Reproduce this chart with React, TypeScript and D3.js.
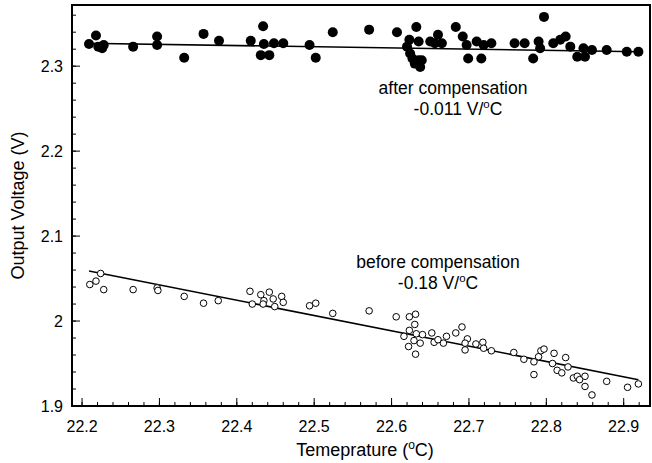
import React, { useEffect, useRef } from 'react';
import * as d3 from 'd3';

// after compensation (filled dots)
const afterTemp = [22.209, 22.218, 22.221, 22.226, 22.228, 22.266, 22.297, 22.297, 22.332, 22.357,
  22.377, 22.418, 22.434, 22.435, 22.431, 22.442, 22.448, 22.46, 22.494, 22.502, 22.524,
  22.571, 22.607, 22.632, 22.623, 22.635, 22.62, 22.624, 22.627, 22.635, 22.637, 22.63, 22.639,
  22.65, 22.66, 22.656, 22.665, 22.683, 22.692, 22.697, 22.699, 22.71, 22.716, 22.719, 22.729,
  22.759, 22.772, 22.783, 22.79, 22.797, 22.792, 22.809, 22.818, 22.825, 22.831, 22.84, 22.85,
  22.848, 22.859, 22.878, 22.904, 22.919];
const afterVolt = [2.326, 2.336, 2.323, 2.321, 2.325, 2.323, 2.335, 2.325, 2.31, 2.338,
  2.33, 2.33, 2.347, 2.326, 2.313, 2.313, 2.327, 2.327, 2.325, 2.31, 2.34,
  2.343, 2.34, 2.346, 2.331, 2.329, 2.323, 2.315, 2.309, 2.307, 2.299, 2.303, 2.307,
  2.329, 2.337, 2.327, 2.327, 2.346, 2.335, 2.325, 2.309, 2.329, 2.309, 2.325, 2.327,
  2.327, 2.327, 2.309, 2.329, 2.358, 2.321, 2.327, 2.331, 2.335, 2.323, 2.311, 2.311,
  2.321, 2.319, 2.319, 2.317, 2.317];

// before compensation (open circles)
const beforeTemp = [22.21, 22.218, 22.224, 22.228, 22.266, 22.297, 22.298, 22.332, 22.357, 22.376,
  22.417, 22.42, 22.431, 22.435, 22.434, 22.442, 22.447, 22.449, 22.458, 22.46, 22.494, 22.502, 22.524,
  22.571, 22.606, 22.623, 22.631, 22.63, 22.623, 22.616, 22.632, 22.629, 22.622, 22.637, 22.631,
  22.64, 22.652, 22.655, 22.66, 22.667, 22.671, 22.683, 22.691, 22.698, 22.695, 22.695, 22.709,
  22.718, 22.719, 22.729, 22.758, 22.771, 22.784, 22.784, 22.79, 22.793, 22.797, 22.81, 22.808,
  22.814, 22.82, 22.825, 22.828, 22.835, 22.84, 22.843, 22.85, 22.85, 22.859, 22.878, 22.905, 22.919];
const beforeVolt = [2.043, 2.047, 2.056, 2.037, 2.037, 2.039, 2.036, 2.029, 2.021, 2.024,
  2.035, 2.02, 2.031, 2.024, 2.02, 2.034, 2.026, 2.017, 2.029, 2.022, 2.018, 2.021, 2.009,
  2.012, 2.005, 2.005, 2.008, 1.996, 1.989, 1.982, 1.985, 1.977, 1.97, 1.974, 1.961,
  1.984, 1.986, 1.975, 1.978, 1.974, 1.982, 1.986, 1.993, 1.979, 1.974, 1.966, 1.973,
  1.975, 1.968, 1.965, 1.963, 1.955, 1.952, 1.937, 1.958, 1.965, 1.967, 1.962, 1.95,
  1.942, 1.939, 1.957, 1.946, 1.933, 1.935, 1.931, 1.935, 1.923, 1.913, 1.929, 1.922, 1.926];

const afterFit = [[22.204, 2.327], [22.92, 2.317]];
const beforeFit = [[22.209, 2.059], [22.919, 1.931]];

const xDomain = [22.187, 22.934];
const yDomain = [1.9, 2.372];
const xMajor = [22.2, 22.3, 22.4, 22.5, 22.6, 22.7, 22.8, 22.9];
const yMajor = [1.9, 2.0, 2.1, 2.2, 2.3];

const App = () => {
  const svgRef = useRef(null);
  const width = 652;
  const height = 463;

  useEffect(() => {
    const svg = d3.select(svgRef.current);
    svg.selectAll('*').remove();
    const left = 72, right = 650, top = 5, bottom = 406;
    const font = 'Liberation Sans, Arial, sans-serif';

    const x = d3.scaleLinear().domain(xDomain).range([left, right]);
    const y = d3.scaleLinear().domain(yDomain).range([bottom, top]);

    // minor ticks every 0.02
    const xMinor = d3.range(22.2, 22.934, 0.02);
    const yMinor = d3.range(1.9, 2.372, 0.02);

    svg.append('g').selectAll('line.xm')
      .data(xMinor).enter().append('line')
      .attr('x1', d => x(d)).attr('x2', d => x(d))
      .attr('y1', bottom).attr('y2', bottom - 4)
      .attr('stroke', '#000').attr('stroke-width', 1);
    svg.append('g').selectAll('line.xM')
      .data(xMajor).enter().append('line')
      .attr('x1', d => x(d)).attr('x2', d => x(d))
      .attr('y1', bottom).attr('y2', bottom - 8)
      .attr('stroke', '#000').attr('stroke-width', 1);
    svg.append('g').selectAll('line.ym')
      .data(yMinor).enter().append('line')
      .attr('x1', left).attr('x2', left + 4)
      .attr('y1', d => y(d)).attr('y2', d => y(d))
      .attr('stroke', '#000').attr('stroke-width', 1);
    svg.append('g').selectAll('line.yM')
      .data(yMajor).enter().append('line')
      .attr('x1', left).attr('x2', left + 8)
      .attr('y1', d => y(d)).attr('y2', d => y(d))
      .attr('stroke', '#000').attr('stroke-width', 1);

    svg.append('g').selectAll('text')
      .data(xMajor).enter().append('text')
      .attr('x', d => x(d)).attr('y', bottom + 26)
      .attr('text-anchor', 'middle')
      .attr('font-family', font).attr('font-size', 16)
      .text(d => d.toFixed(1));
    svg.append('g').selectAll('text')
      .data(yMajor).enter().append('text')
      .attr('x', left - 9).attr('y', d => y(d) + 6)
      .attr('text-anchor', 'end')
      .attr('font-family', font).attr('font-size', 16)
      .text(d => d === 2 ? '2' : d.toFixed(1));

    // frame
    svg.append('rect')
      .attr('x', left).attr('y', top)
      .attr('width', right - left).attr('height', bottom - top)
      .attr('fill', 'none').attr('stroke', '#000').attr('stroke-width', 2);

    const line = d3.line().x(d => x(d[0])).y(d => y(d[1]));
    svg.append('path').attr('d', line(afterFit))
      .attr('fill', 'none').attr('stroke', '#000').attr('stroke-width', 1.6);
    svg.append('path').attr('d', line(beforeFit))
      .attr('fill', 'none').attr('stroke', '#000').attr('stroke-width', 1.6);

    svg.append('g').selectAll('circle')
      .data(afterTemp.map((t, i) => [t, afterVolt[i]]))
      .enter().append('circle')
      .attr('cx', d => x(d[0])).attr('cy', d => y(d[1]))
      .attr('r', 5).attr('fill', '#000');

    svg.append('g').selectAll('circle')
      .data(beforeTemp.map((t, i) => [t, beforeVolt[i]]))
      .enter().append('circle')
      .attr('cx', d => x(d[0])).attr('cy', d => y(d[1]))
      .attr('r', 3.3).attr('fill', '#fff').attr('stroke', '#000').attr('stroke-width', 1);

    // annotations (two lines each)
    const note = (cx, by, str) => {
      svg.append('text').attr('x', cx).attr('y', by)
        .attr('text-anchor', 'middle')
        .attr('font-family', font).attr('font-size', 17.5)
        .text(str);
    };
    const slope = (cx, by, str) => {
      const t = svg.append('text').attr('x', cx).attr('y', by)
        .attr('text-anchor', 'middle')
        .attr('font-family', font).attr('font-size', 17.5);
      t.append('tspan').text(str + ' V/');
      t.append('tspan').attr('dy', -7).attr('font-size', 11.5).text('o');
      t.append('tspan').attr('dy', 7).text('C');
    };
    note(453, 94, 'after compensation');
    slope(458, 115, '-0.011');
    note(438, 268, 'before compensation');
    slope(438, 289, '-0.18');

    // axis titles
    const xt = svg.append('text')
      .attr('x', 365).attr('y', 456)
      .attr('text-anchor', 'middle')
      .attr('font-family', font).attr('font-size', 18);
    xt.append('tspan').text('Temeprature (');
    xt.append('tspan').attr('dy', -7).attr('font-size', 12).text('o');
    xt.append('tspan').attr('dy', 7).text('C)');

    svg.append('text')
      .attr('transform', `translate(24,${(top + bottom) / 2}) rotate(-90)`)
      .attr('text-anchor', 'middle')
      .attr('font-family', font).attr('font-size', 18)
      .text('Output Voltage (V)');
  }, []);

  return (
    <svg ref={svgRef} width={width} height={height}
      style={{ position: 'absolute', left: 0, top: 0, background: '#fff' }}></svg>
  );
};

export default App;
